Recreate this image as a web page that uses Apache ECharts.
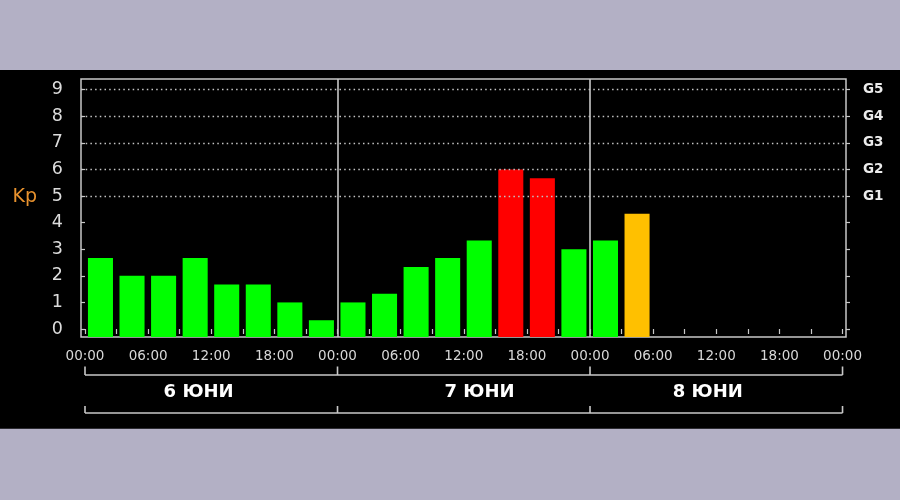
<!DOCTYPE html>
<html><head><meta charset="utf-8">
<script src="https://cdn.jsdelivr.net/npm/echarts@6/dist/echarts.min.js"></script>
<style>html,body{margin:0;padding:0;background:#b3b0c5;}#c{width:900px;height:500px;}</style>
</head><body><div id="c"></div>
<script>
// ---- data ----
const slotStartHours = [0,3,6,9,12,15,18,21,24,27,30,33,36,39,42,45,48,51];
const kpValues = [2.67,2,2,2.67,1.67,1.67,1,0.33, 1,1.33,2.33,2.67,3.33,6,5.67,3, 3.33,4.33];
const kpTickValues = [0,1,2,3,4,5,6,7,8,9];
const stormLevels = [5,6,7,8,9];
const stormLabels = ['G1','G2','G3','G4','G5'];
const hourTickValues = [0,3,6,9,12,15,18,21,24,27,30,33,36,39,42,45,48,51,54,57,60,63,66,69,72];
const hourLabelValues = [0,6,12,18,24,30,36,42,48,54,60,66,72];
const hourLabels = ['00:00','06:00','12:00','18:00'];
const dayBoundaries = [0,24,48,72];
const daySeparators = [24,48];
const dayLabels = ['6 ЮНИ','7 ЮНИ','8 ЮНИ'];

// ---- layout ----
const X_MIN = -0.38, X_MAX = 72.33, Y_MIN = -0.3, Y_MAX = 9.4;
const BAR_OFFSET = 0.28, BAR_SPAN = 2.38;
const dayLabelHours = [10.8, 37.5, 59.2];
const lineCol = '#c8c8c8';

function kpColor(v){ return v >= 5 ? '#ff0000' : (v >= 4 ? '#ffc000' : '#00ff00'); }

const chart = echarts.init(document.getElementById('c'));
const option = {
  animation: false,
  backgroundColor: 'transparent',
  grid: {left:81, right:54, top:79, bottom:163, show:true, borderColor:lineCol, borderWidth:1.5, backgroundColor:'transparent'},
  xAxis: {
    type:'value', min:X_MIN, max:X_MAX,
    axisLine:{show:false}, splitLine:{show:false},
    axisTick:{show:true, customValues:hourTickValues, length:5, lineStyle:{color:lineCol, width:1.2}},
    axisLabel:{customValues:hourLabelValues, formatter:v=>hourLabels[Math.round((v%24)/6)],
      color:'#d8d8d8', fontFamily:'DejaVu Sans', fontSize:13.5, margin:12}
  },
  yAxis: [{
    type:'value', min:Y_MIN, max:Y_MAX, position:'left',
    axisLine:{show:false}, splitLine:{show:false},
    axisTick:{show:true, customValues:kpTickValues, length:4, lineStyle:{color:lineCol, width:1.2}},
    axisLabel:{customValues:kpTickValues, color:'#dcdcdc', fontFamily:'DejaVu Sans', fontSize:17.5, margin:18}
  },{
    type:'value', min:Y_MIN, max:Y_MAX, position:'right',
    axisLine:{show:false}, splitLine:{show:false},
    axisTick:{show:true, customValues:kpTickValues, length:4, lineStyle:{color:lineCol, width:1.2}},
    axisLabel:{customValues:stormLevels, formatter:v=>stormLabels[stormLevels.indexOf(Math.round(v))],
      color:'#ececec', fontFamily:'DejaVu Sans', fontWeight:'bold', fontSize:13.5, margin:17}
  }],
  series: [{
    type:'custom',
    data: slotStartHours.map((h,i)=>[h, kpValues[i]]),
    encode:{x:0, y:1},
    renderItem: function(params, api){
      const h = api.value(0), v = api.value(1);
      const p1 = api.coord([h + BAR_OFFSET, v]);
      const p2 = api.coord([h + BAR_OFFSET + BAR_SPAN, Y_MIN]);
      return {type:'rect', shape:{x:p1[0], y:p1[1], width:p2[0]-p1[0], height:p2[1]-p1[1]},
        style:{fill:kpColor(v)}};
    },
    markLine:{
      silent:true, symbol:'none', label:{show:false}, animation:false,
      data: stormLevels.map(v=>({yAxis:v, lineStyle:{type:[1.5,3.2], color:'#c4c4c4', width:1.3}}))
        .concat(daySeparators.map(h=>({xAxis:h, lineStyle:{type:'solid', color:lineCol, width:1.6}})))
    }
  }]
};
chart.setOption(option);

const px = h => chart.convertToPixel({xAxisIndex:0}, h);
const gfx = [];
gfx.push({type:'rect', z:-10, silent:true, shape:{x:0, y:70, width:900, height:358.7}, style:{fill:'#000'}});
const x0 = px(dayBoundaries[0]), x1 = px(dayBoundaries[dayBoundaries.length-1]);
[[366.5,375],[406,413]].forEach(([yt,yb])=>{
  gfx.push({type:'line', silent:true, shape:{x1:x0, y1:yb, x2:x1, y2:yb}, style:{stroke:lineCol, lineWidth:1.6}});
  dayBoundaries.forEach(h=>{
    const x = px(h);
    gfx.push({type:'line', silent:true, shape:{x1:x, y1:yt, x2:x, y2:yb}, style:{stroke:lineCol, lineWidth:1.6}});
  });
});
dayLabels.forEach((t,i)=>{
  gfx.push({type:'text', silent:true, x:px(dayLabelHours[i]), y:392.5,
    style:{text:t, fill:'#ffffff', font:'bold 18px "DejaVu Sans"', align:'center', verticalAlign:'middle'}});
});
gfx.push({type:'text', silent:true, x:12.5, y:197,
  style:{text:'Kp', fill:'#e8922e', font:'19px "DejaVu Sans"', align:'left', verticalAlign:'middle'}});
chart.setOption({graphic:gfx});
</script></body></html>
